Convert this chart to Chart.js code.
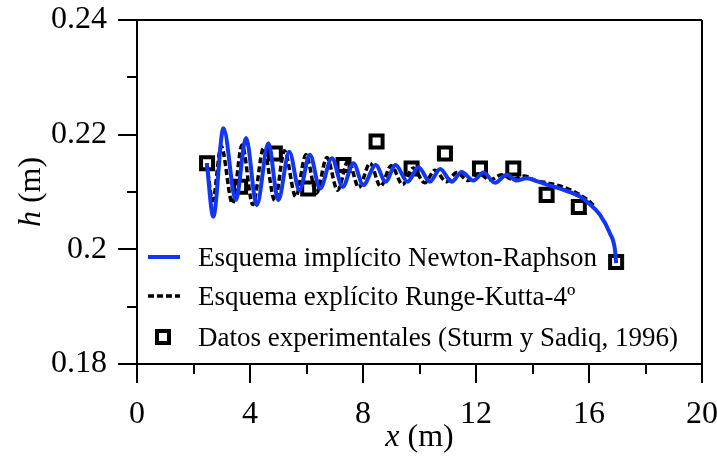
<!DOCTYPE html>
<html><head><meta charset="utf-8">
<script src="https://cdn.jsdelivr.net/npm/chart.js@4.4.0/dist/chart.umd.min.js"></script>
<style>html,body{margin:0;padding:0;background:#fff;}</style>
</head><body>
<canvas id="c" width="717" height="468"></canvas>
<script>
// ---- data ----
const newtonX = [2.47,2.70,3.06,3.50,3.86,4.24,4.65,5.00,5.39,5.75,6.12,6.48,6.90,7.28,7.66,8.01,8.45,8.80,9.15,9.58,9.96,10.37,10.73,11.14,11.49,11.91,12.26,12.67,13.09,13.44,13.79,14.20,14.50,14.97,15.68,16.00,16.39,16.74,16.92,16.96];
const newtonH = [0.2150,0.2057,0.2211,0.2086,0.2194,0.2077,0.2185,0.2086,0.2170,0.2103,0.2165,0.2106,0.2159,0.2109,0.2150,0.2112,0.2147,0.2118,0.2147,0.2118,0.2143,0.2118,0.2140,0.2118,0.2135,0.2120,0.2134,0.2116,0.2130,0.2120,0.2124,0.2118,0.2113,0.2106,0.2092,0.2080,0.2060,0.2028,0.1999,0.1976];
const rk4X = [2.47,2.68,2.98,3.38,3.72,4.10,4.48,4.88,5.22,5.62,5.98,6.35,6.72,7.10,7.48,7.85,8.25,8.62,9.00,9.40,9.78,10.18,10.55,10.95,11.32,11.72,12.10,12.50,12.90,13.30,13.70,14.10,14.50,15.00,15.50,15.90,16.20];
const rk4H = [0.2150,0.2085,0.2180,0.2080,0.2182,0.2078,0.2176,0.2085,0.2172,0.2092,0.2165,0.2098,0.2160,0.2103,0.2155,0.2108,0.2150,0.2110,0.2146,0.2113,0.2142,0.2116,0.2138,0.2118,0.2134,0.2120,0.2132,0.2121,0.2130,0.2122,0.2128,0.2120,0.2116,0.2110,0.2100,0.2088,0.2075];
const expX = [2.48,3.65,4.88,6.06,7.31,8.48,9.72,10.90,12.14,13.32,14.50,15.64,16.96];
const expH = [0.2150,0.2109,0.2167,0.2106,0.2147,0.2188,0.2141,0.2167,0.2141,0.2141,0.2095,0.2074,0.1978];
const xMajorTicks = [0,4,8,12,16,20];
const xMinorTicks = [2,6,10,14,18];
const yMajorTicks = [0.18,0.2,0.22,0.24];
const yMinorTicks = [0.19,0.21,0.23];
const seriesNames = ['Esquema implícito Newton-Raphson','Esquema explícito Runge-Kutta-4º','Datos experimentales (Sturm y Sadiq, 1996)'];
const xTitle = ['x',' (m)'];
const yTitle = ['h',' (m)'];

const FONT = "'Liberation Serif','Times New Roman',serif";
const BLUE = '#1236f2';
const near = (v, arr) => arr.some(a => Math.abs(a - v) < 1e-6);

const pts = (xs, ys) => xs.map((x, i) => ({x: x, y: ys[i]}));

const overlay = {
  id: 'overlay',
  afterDraw(chart) {
    const ctx = chart.ctx;
    const xs = chart.scales.x, ys = chart.scales.y;
    const ca = chart.chartArea;
    ctx.save();
    ctx.strokeStyle = '#000';
    ctx.lineWidth = 2;
    ctx.setLineDash([]);
    // minor ticks
    xMinorTicks.forEach(v => {
      const p = Math.round(xs.getPixelForValue(v));
      ctx.beginPath(); ctx.moveTo(p, ca.bottom); ctx.lineTo(p, ca.bottom + 10); ctx.stroke();
    });
    yMinorTicks.forEach(v => {
      const p = Math.round(ys.getPixelForValue(v));
      ctx.beginPath(); ctx.moveTo(ca.left, p); ctx.lineTo(ca.left - 10, p); ctx.stroke();
    });
    // axis titles
    ctx.fillStyle = '#000';
    ctx.textBaseline = 'alphabetic';
    const drawMixed = (parts, cx, cy) => {
      ctx.font = 'italic 32px ' + FONT;
      const w0 = ctx.measureText(parts[0]).width;
      ctx.font = '32px ' + FONT;
      const w1 = ctx.measureText(parts[1]).width;
      let x0 = cx - (w0 + w1) / 2;
      ctx.textAlign = 'left';
      ctx.font = 'italic 32px ' + FONT;
      ctx.fillText(parts[0], x0, cy);
      ctx.font = '32px ' + FONT;
      ctx.fillText(parts[1], x0 + w0, cy);
    };
    drawMixed(xTitle, (ca.left + ca.right) / 2, 446);
    ctx.save();
    ctx.translate(40, (ca.top + ca.bottom) / 2);
    ctx.rotate(-Math.PI / 2);
    drawMixed(yTitle, 0, 0);
    ctx.restore();
    // legend
    const lx0 = 148, lx1 = 180, tx = 198;
    const rows = [257, 296, 337];
    const base = [266, 305, 346];
    ctx.lineCap = 'butt';
    ctx.strokeStyle = BLUE; ctx.lineWidth = 4;
    ctx.beginPath(); ctx.moveTo(lx0, rows[0]); ctx.lineTo(lx1, rows[0]); ctx.stroke();
    ctx.strokeStyle = '#000'; ctx.lineWidth = 3.5; ctx.setLineDash([6, 3]);
    ctx.beginPath(); ctx.moveTo(lx0, rows[1]); ctx.lineTo(lx1, rows[1]); ctx.stroke();
    ctx.setLineDash([]);
    ctx.lineWidth = 4; ctx.fillStyle = '#fff';
    ctx.fillRect(157, rows[2] - 6, 12, 12);
    ctx.strokeRect(157, rows[2] - 6, 12, 12);
    ctx.fillStyle = '#000';
    ctx.font = '27px ' + FONT;
    ctx.textAlign = 'left';
    seriesNames.forEach((t, i) => ctx.fillText(t, tx, base[i]));
    ctx.restore();
  }
};

new Chart(document.getElementById('c'), {
  type: 'line',
  data: {
    datasets: [
      {label: seriesNames[0], data: pts(newtonX, newtonH), borderColor: BLUE, borderWidth: 4, pointRadius: 0, cubicInterpolationMode: 'monotone', fill: false, order: 0},
      {label: seriesNames[1], data: pts(rk4X, rk4H), borderColor: '#000', borderWidth: 3.5, borderDash: [6, 3], pointRadius: 0, cubicInterpolationMode: 'monotone', fill: false, order: 1},
      {label: seriesNames[2], data: pts(expX, expH), showLine: false, pointStyle: 'rect', pointRadius: 8.5, pointBorderWidth: 4, pointBackgroundColor: '#fff', pointBorderColor: '#000', order: 2}
    ]
  },
  options: {
    responsive: false,
    animation: false,
    devicePixelRatio: 1,
    layout: {padding: {top: 20, right: 15, left: 0, bottom: 0}},
    plugins: {legend: {display: false}, tooltip: {enabled: false}},
    scales: {
      x: {
        type: 'linear', min: 0, max: 20,
        ticks: {stepSize: 2, autoSkip: false, maxRotation: 0, padding: 12, color: '#000', font: {family: FONT, size: 32},
          callback: v => near(v, xMajorTicks) ? String(Math.round(v)) : ''},
        grid: {drawOnChartArea: true, lineWidth: 2, tickLength: 19, tickWidth: 2,
          color: c => (c.tick && (near(c.tick.value, [0, 20]))) ? '#000' : 'rgba(0,0,0,0)',
          tickColor: c => (c.tick && near(c.tick.value, xMajorTicks)) ? '#000' : 'rgba(0,0,0,0)'},
        border: {display: true, color: '#000', width: 2},
        afterFit: s => { s.height = 104; s.paddingLeft = 0; s.paddingRight = 0; }
      },
      y: {
        type: 'linear', min: 0.18, max: 0.24,
        ticks: {stepSize: 0.01, autoSkip: false, padding: 11, color: '#000', font: {family: FONT, size: 32},
          callback: v => near(v, yMajorTicks) ? String(Math.round(v * 100) / 100) : ''},
        grid: {drawOnChartArea: true, lineWidth: 2, tickLength: 19, tickWidth: 2,
          color: c => (c.tick && near(c.tick.value, [0.18, 0.24])) ? '#000' : 'rgba(0,0,0,0)',
          tickColor: c => (c.tick && near(c.tick.value, yMajorTicks)) ? '#000' : 'rgba(0,0,0,0)'},
        border: {display: true, color: '#000', width: 2},
        afterFit: s => { s.width = 137; s.paddingTop = 0; s.paddingBottom = 0; }
      }
    }
  },
  plugins: [overlay]
});
</script>
</body></html>
